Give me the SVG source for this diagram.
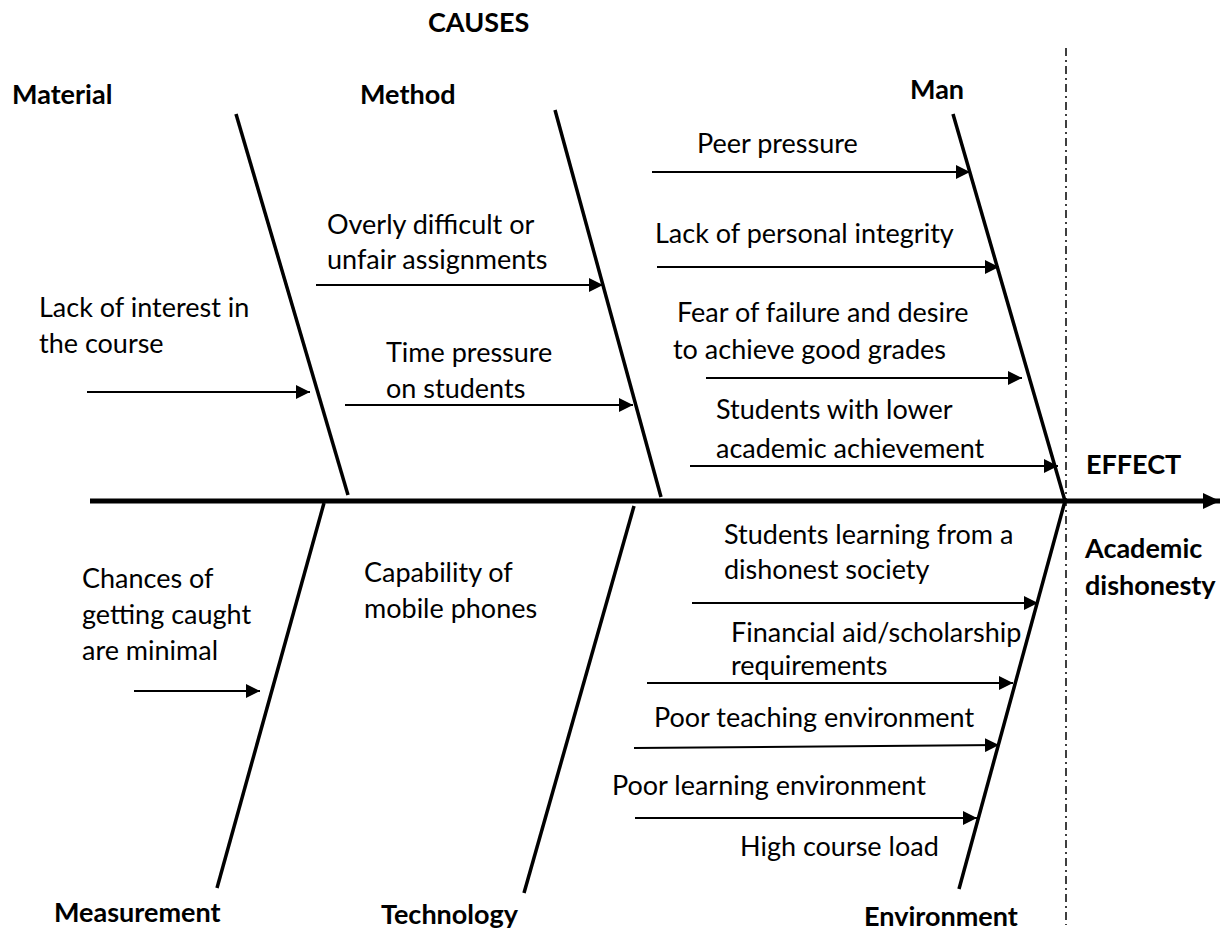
<svg xmlns="http://www.w3.org/2000/svg" width="1222" height="931" viewBox="0 0 1222 931">
<style>
text{font-family:Lato,"Liberation Sans",sans-serif;font-size:27px;fill:#000}
.h{font-weight:bold}
.bone{stroke:#000;stroke-width:3.5;fill:none}
.arr{stroke:#000;stroke-width:2;fill:none;marker-end:url(#ah)}
</style>
<defs>
<marker id="ah" markerUnits="userSpaceOnUse" markerWidth="16" markerHeight="14" refX="14" refY="7" orient="auto">
<path d="M0,0 L14,7 L0,14 Z" fill="#000"/>
</marker>
<marker id="big" markerUnits="userSpaceOnUse" markerWidth="18" markerHeight="16" refX="17" refY="8" orient="auto">
<path d="M0,0 L17,8 L0,16 Z" fill="#000"/>
</marker>
</defs>
<rect width="1222" height="931" fill="#fff"/>
<g id="connectors">
<line x1="1066" y1="48" x2="1066" y2="925" stroke="#000" stroke-width="1.5" stroke-dasharray="8,4,2,4"/>
<line x1="90" y1="501" x2="1220" y2="501" stroke="#000" stroke-width="5" marker-end="url(#big)"/>
<line class="bone" x1="236" y1="114" x2="348" y2="495"/>
<line class="bone" x1="555" y1="110" x2="661" y2="497"/>
<line class="bone" x1="953" y1="114" x2="1065" y2="501"/>
<line class="bone" x1="324" y1="503" x2="217" y2="888"/>
<line class="bone" x1="634" y1="506" x2="524" y2="893"/>
<line class="bone" x1="1065" y1="501" x2="959" y2="889"/>
<line class="arr" x1="87" y1="392" x2="310" y2="392"/>
<line class="arr" x1="316" y1="285" x2="603" y2="285"/>
<line class="arr" x1="345" y1="405" x2="633" y2="405"/>
<line class="arr" x1="652" y1="172" x2="970" y2="172"/>
<line class="arr" x1="657" y1="267" x2="999" y2="267"/>
<line class="arr" x1="706" y1="378" x2="1022" y2="378"/>
<line class="arr" x1="690" y1="466" x2="1058" y2="466"/>
<line class="arr" x1="134" y1="691" x2="260" y2="691"/>
<line class="arr" x1="692" y1="603" x2="1038" y2="603"/>
<line class="arr" x1="647" y1="683" x2="1013" y2="683"/>
<line class="arr" x1="634" y1="748" x2="999" y2="745"/>
<line class="arr" x1="635" y1="818" x2="977" y2="818"/>
</g>
<g id="heads">
<text class="h" x="428" y="32">CAUSES</text>
<text class="h" x="12" y="104">Material</text>
<text class="h" x="360" y="104">Method</text>
<text class="h" x="910" y="99">Man</text>
<text class="h" x="54" y="922">Measurement</text>
<text class="h" x="381" y="924">Technology</text>
<text class="h" x="864" y="926">Environment</text>
</g>
<g id="effect">
<text class="h" x="1086" y="474">EFFECT</text>
<text class="h" x="1085" y="558">Academic</text>
<text class="h" x="1085" y="595">dishonesty</text>
</g>
<g id="material-causes">
<text x="39" y="317">Lack of interest in</text>
<text x="39" y="353">the course</text>
</g>
<g id="method-causes">
<text x="327" y="234">Overly difficult or</text>
<text x="327" y="269">unfair assignments</text>
<text x="386" y="362">Time pressure</text>
<text x="386" y="398">on students</text>
</g>
<g id="man-causes">
<text x="697" y="153">Peer pressure</text>
<text x="655" y="243">Lack of personal integrity</text>
<text x="677" y="322">Fear of failure and desire</text>
<text x="673" y="359">to achieve good grades</text>
<text x="716" y="419">Students with lower</text>
<text x="716" y="458">academic achievement</text>
</g>
<g id="measurement-causes">
<text x="82" y="588">Chances of</text>
<text x="82" y="624">getting caught</text>
<text x="82" y="660">are minimal</text>
</g>
<g id="technology-causes">
<text x="364" y="582">Capability of</text>
<text x="364" y="618">mobile phones</text>
</g>
<g id="environment-causes">
<text x="724" y="544">Students learning from a</text>
<text x="724" y="579">dishonest society</text>
<text x="731" y="642">Financial aid/scholarship</text>
<text x="731" y="675">requirements</text>
<text x="654" y="727">Poor teaching environment</text>
<text x="612" y="795">Poor learning environment</text>
<text x="740" y="856">High course load</text>
</g>
</svg>
